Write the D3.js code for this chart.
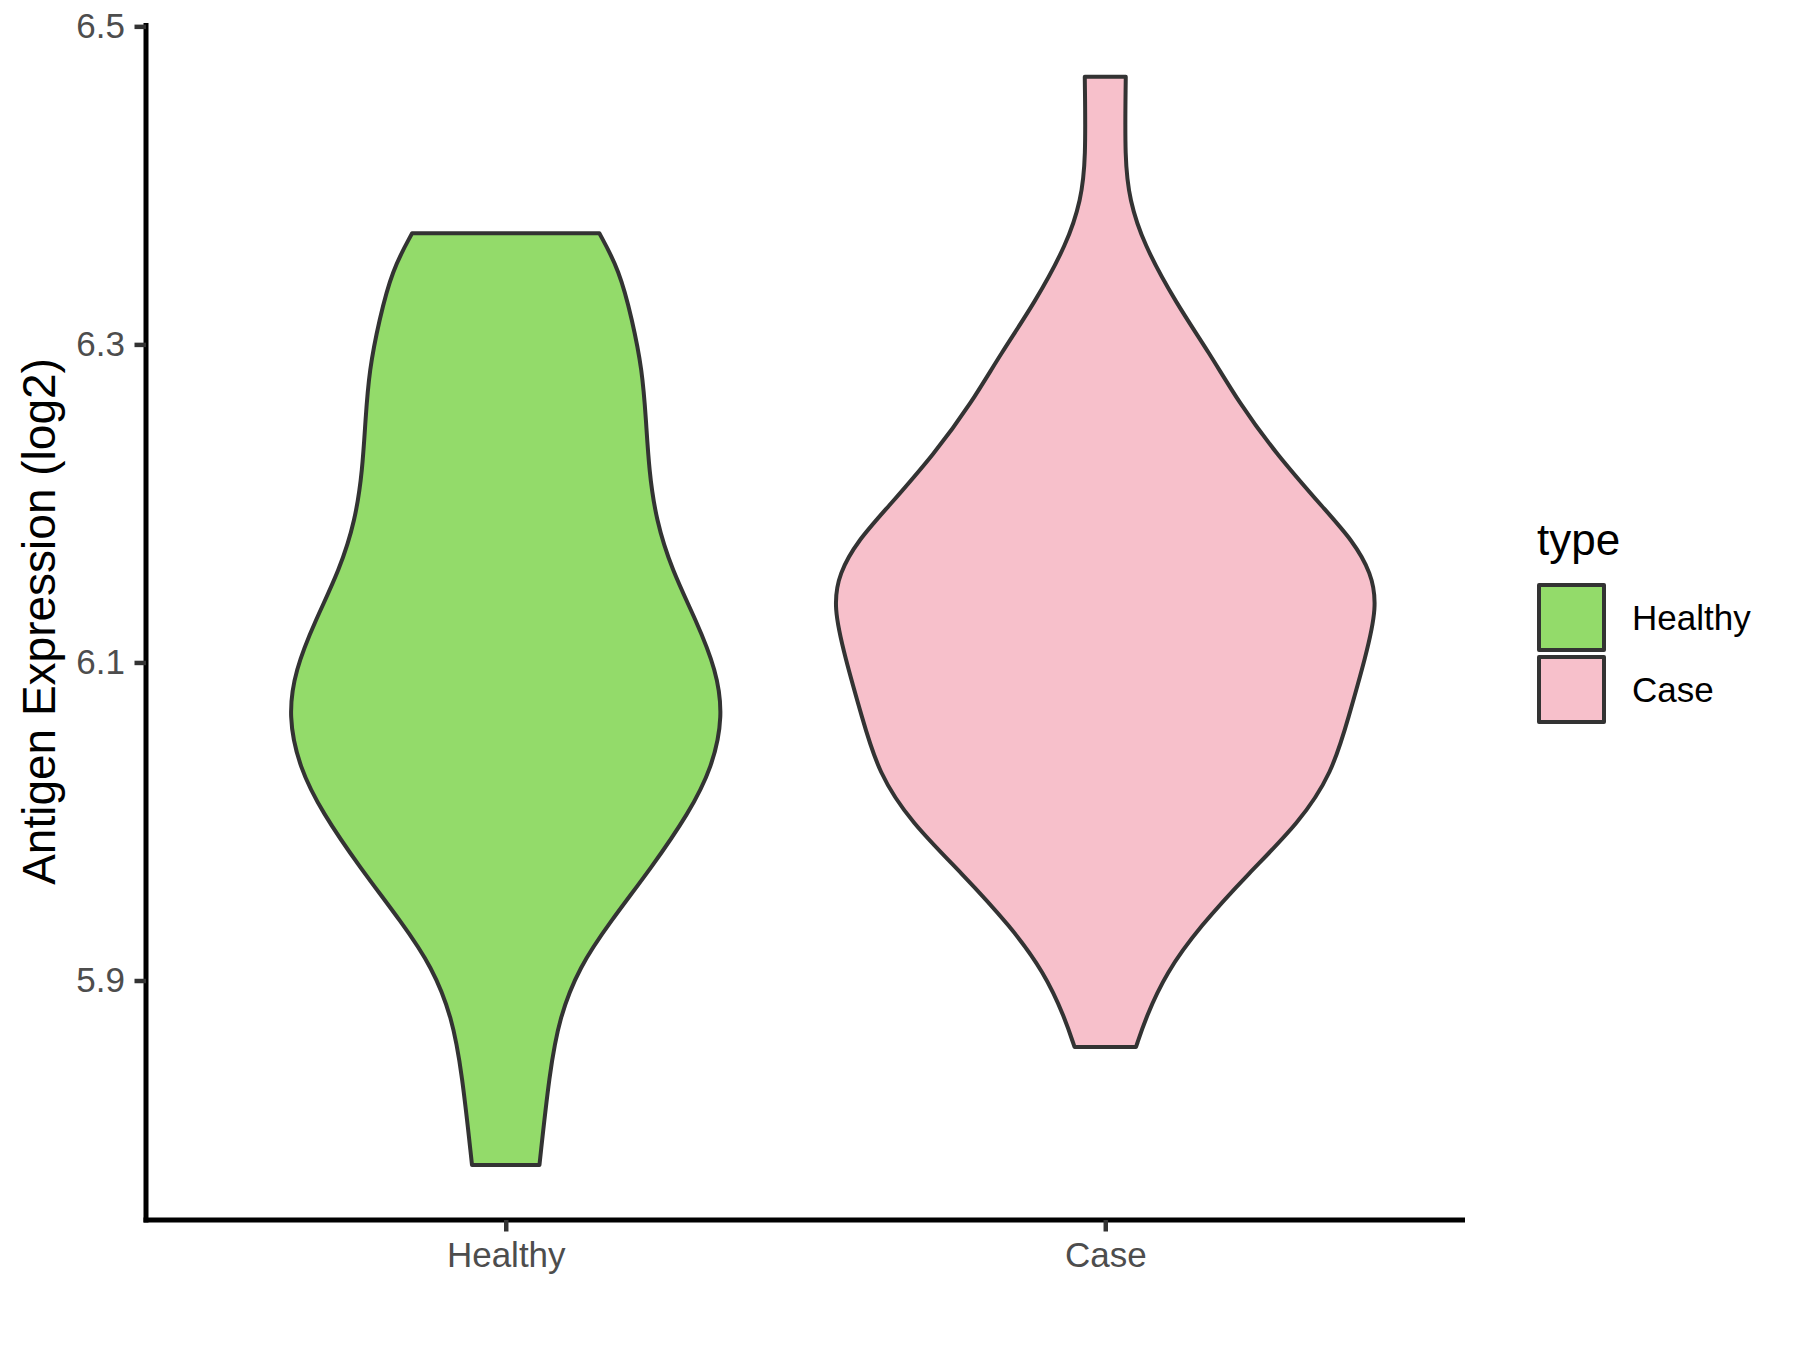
<!DOCTYPE html>
<html>
<head>
<meta charset="utf-8">
<script src="https://cdn.jsdelivr.net/npm/d3@7"></script>
<style>
  html, body { margin: 0; padding: 0; background: #ffffff; }
  svg { display: block; font-family: "Liberation Sans", Arial, Helvetica, sans-serif; }
</style>
</head>
<body>
<svg id="chart" width="1800" height="1350"></svg>
<script>
// ---------- data ----------
const categories = ["Healthy", "Case"];
const fillColors = ["#93DB6A", "#F7C0CB"];

// violin outline samples: expression value (log2) and relative density (max = 1)
const healthyValues  = [5.7840, 5.8418, 5.8770, 5.9085, 5.9362, 5.9714, 6.0053, 6.0342, 6.0660,
                        6.0952, 6.1267, 6.1581, 6.1896, 6.2210, 6.2525, 6.2839, 6.3154, 6.3468, 6.3699];
const healthyDensity = [0.125, 0.162, 0.199, 0.273, 0.384, 0.542, 0.679, 0.766, 0.806,
                        0.781, 0.705, 0.616, 0.557, 0.531, 0.520, 0.506, 0.469, 0.421, 0.347];

const caseValues  = [5.8582, 5.8770, 5.9047, 5.9337, 5.9677, 5.9990, 6.0305, 6.0657, 6.1034, 6.1349,
                     6.1563, 6.1770, 6.1959, 6.2317, 6.2632, 6.2946, 6.3260, 6.3638, 6.3908,
                     6.4160, 6.4683];
const caseDensity = [0.114, 0.151, 0.225, 0.349, 0.533, 0.718, 0.841, 0.902, 0.965, 1.008,
                     0.987, 0.915, 0.815, 0.631, 0.496, 0.386, 0.262, 0.140, 0.090,
                     0.072, 0.076];

const yTicks = [5.9, 6.1, 6.3, 6.5];
const yDomain = [5.7494, 6.5021];
const yTitle = "Antigen Expression (log2)";
const legendTitle = "type";

// ---------- layout ----------
const panel = { left: 146, right: 1465, top: 23, bottom: 1220 };
const svg = d3.select("#chart");

const x = d3.scalePoint().domain(categories).range([panel.left, panel.right]).padding(0.6);
const y = d3.scaleLinear().domain(yDomain).range([panel.bottom, panel.top]);
const halfWidth = d3.scaleLinear().domain([0, 1]).range([0, 0.45 * x.step()]);

const violins = [
  { cat: "Healthy", values: healthyValues, density: healthyDensity, fill: fillColors[0] },
  { cat: "Case",    values: caseValues,    density: caseDensity,    fill: fillColors[1] }
];

// ---------- violins ----------
violins.forEach(v => {
  const pts = v.values.map((val, i) => ({ v: val, d: v.density[i] }));
  const cx = x(v.cat);
  const area = d3.area()
    .curve(d3.curveBasis)
    .y(d => y(d.v))
    .x0(d => cx - halfWidth(d.d))
    .x1(d => cx + halfWidth(d.d));
  svg.append("path")
    .datum(pts)
    .attr("d", area)
    .attr("fill", v.fill)
    .attr("stroke", "#333333")
    .attr("stroke-width", 4)
    .attr("stroke-linejoin", "round");
});

// ---------- axes ----------
const yAxis = d3.axisLeft(y).tickValues(yTicks).tickFormat(d3.format(".1f"))
  .tickSize(11.5).tickSizeOuter(0).tickPadding(9.5);
const gy = svg.append("g").attr("transform", `translate(${panel.left},0)`).call(yAxis);

const xAxis = d3.axisBottom(x).tickSize(11.5).tickSizeOuter(0).tickPadding(10.3);
const gx = svg.append("g").attr("transform", `translate(0,${panel.bottom})`).call(xAxis);

[gx, gy].forEach(g => {
  g.select(".domain").attr("stroke", "#000000").attr("stroke-width", 5);
  g.selectAll(".tick line").attr("stroke", "#333333").attr("stroke-width", 4.5);
  g.selectAll(".tick text").attr("fill", "#4D4D4D").style("font-size", "35px")
    .style("font-family", "'Liberation Sans', Arial, sans-serif");
});
gy.select(".domain").attr("d", `M0,${panel.top}V${panel.bottom + 2.5}`);
gx.select(".domain").attr("d", `M${panel.left - 2.5},0H${panel.right}`);

// y axis title
svg.append("text")
  .attr("transform", `translate(55,${(panel.top + panel.bottom) / 2}) rotate(-90)`)
  .attr("text-anchor", "middle")
  .attr("fill", "#000000")
  .style("font-size", "46px")
  .text(yTitle);

// ---------- legend ----------
const legend = svg.append("g");
legend.append("text")
  .attr("x", 1537).attr("y", 555)
  .attr("fill", "#000000")
  .style("font-size", "44px")
  .text(legendTitle);

categories.forEach((c, i) => {
  const top = 585 + i * 72;
  legend.append("rect")
    .attr("x", 1539).attr("y", top)
    .attr("width", 65).attr("height", 65)
    .attr("fill", fillColors[i])
    .attr("stroke", "#333333")
    .attr("stroke-width", 4)
    .attr("stroke-linejoin", "round");
  legend.append("text")
    .attr("x", 1632).attr("y", top + 32.5)
    .attr("dy", "0.36em")
    .attr("fill", "#000000")
    .style("font-size", "35px")
    .text(c);
});
</script>
</body>
</html>
